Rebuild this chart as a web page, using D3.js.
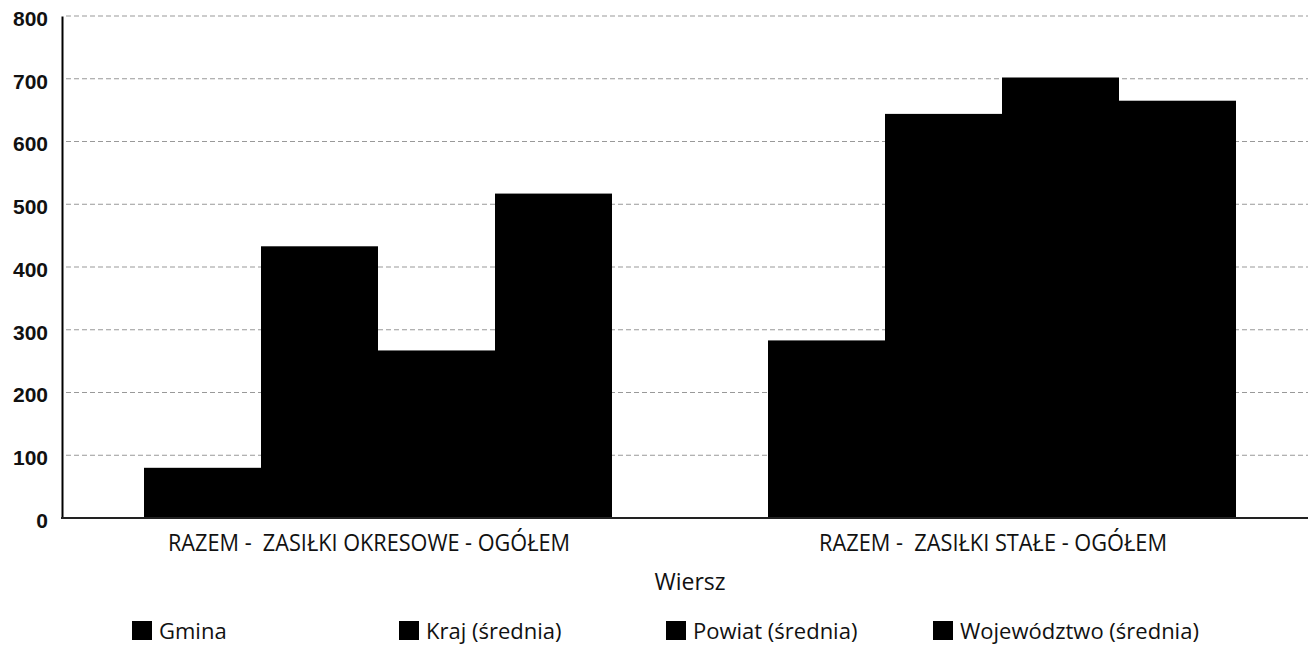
<!DOCTYPE html>
<html>
<head>
<meta charset="utf-8">
<script src="https://cdn.jsdelivr.net/npm/d3@7.9.0/dist/d3.min.js"></script>
<style>
  body { margin: 0; background: #fff; }
  svg { display: block; }
  .label { font-family: 'Open Sans', sans-serif; fill: #111; white-space: pre; }
  .ytick { font-family: 'Liberation Sans', Arial, sans-serif; font-weight: bold; font-size: 21px; fill: #111; }
</style>
</head>
<body>
<svg id="chart" width="1308" height="646"></svg>
<script>
// Chart data
const categories = ['RAZEM -  ZASIŁKI OKRESOWE - OGÓŁEM', 'RAZEM -  ZASIŁKI STAŁE - OGÓŁEM'];
const seriesNames = ['Gmina', 'Kraj (średnia)', 'Powiat (średnia)', 'Województwo (średnia)'];
const gmina = [80, 283];
const kraj = [433, 644];
const powiat = [267, 702];
const wojewodztwo = [517, 665];
const yTicks = [0, 100, 200, 300, 400, 500, 600, 700, 800];

const seriesValues = [gmina, kraj, powiat, wojewodztwo];

const svg = d3.select('#chart');

// Scales
const x0 = d3.scaleBand()
  .domain(categories)
  .range([66, 1314])
  .paddingInner(0.25)
  .paddingOuter(0.125);

const x1 = d3.scaleBand()
  .domain(seriesNames)
  .range([0, x0.bandwidth()])
  .padding(0);

const y = d3.scaleLinear()
  .domain([0, 800])
  .range([518, 16]);

// Gridlines
svg.append('g')
  .selectAll('line')
  .data(yTicks.filter((d) => d > 0))
  .join('line')
  .attr('x1', 66)
  .attr('x2', 1308)
  .attr('y1', (d) => y(d))
  .attr('y2', (d) => y(d))
  .attr('stroke', '#999')
  .attr('stroke-width', 1)
  .attr('stroke-dasharray', '5,3');

// Bars
const rows = [];
categories.forEach((cat, ci) => {
  seriesNames.forEach((name, si) => {
    rows.push({ cat, name, value: seriesValues[si][ci] });
  });
});

svg.append('g')
  .selectAll('rect')
  .data(rows)
  .join('rect')
  .attr('x', (d) => x0(d.cat) + x1(d.name))
  .attr('y', (d) => y(d.value))
  .attr('width', x1.bandwidth())
  .attr('height', (d) => y(0) - y(d.value))
  .attr('fill', '#000');

// Y axis
const yAxis = d3.axisLeft(y).tickValues(yTicks).tickSize(0).tickPadding(14);
const yg = svg.append('g')
  .attr('transform', 'translate(62,0)')
  .call(yAxis);
yg.select('.domain').attr('stroke', '#000').attr('stroke-width', 2);
yg.selectAll('text')
  .attr('class', 'ytick')
  .attr('dy', '0.45em');

// X axis line
svg.append('line')
  .attr('x1', 61)
  .attr('x2', 1308)
  .attr('y1', y(0))
  .attr('y2', y(0))
  .attr('stroke', '#222')
  .attr('stroke-width', 2);

// Category labels (widths)
const catWidths = [402, 348];
svg.append('g')
  .selectAll('text')
  .data(categories)
  .join('text')
  .attr('class', 'label')
  .attr('x', (d) => x0(d) + x0.bandwidth() / 2 - 9)
  .attr('y', 551)
  .attr('text-anchor', 'middle')
  .attr('font-size', 23)
  .attr('textLength', (d, i) => catWidths[i])
  .attr('lengthAdjust', 'spacingAndGlyphs')
  .text((d) => d);

// Axis title
svg.append('text')
  .attr('class', 'label')
  .attr('x', 690)
  .attr('y', 590)
  .attr('text-anchor', 'middle')
  .attr('font-size', 23)
  .text('Wiersz');

// Legend
const legend = svg.append('g')
  .selectAll('g')
  .data(seriesNames)
  .join('g')
  .attr('transform', (d, i) => `translate(${132 + i * 267},621)`);

legend.append('rect')
  .attr('width', 20)
  .attr('height', 19)
  .attr('fill', '#000');

legend.append('text')
  .attr('class', 'label')
  .attr('x', 27)
  .attr('y', 18)
  .attr('font-size', 22)
  .text((d) => d);
</script>
</body>
</html>
